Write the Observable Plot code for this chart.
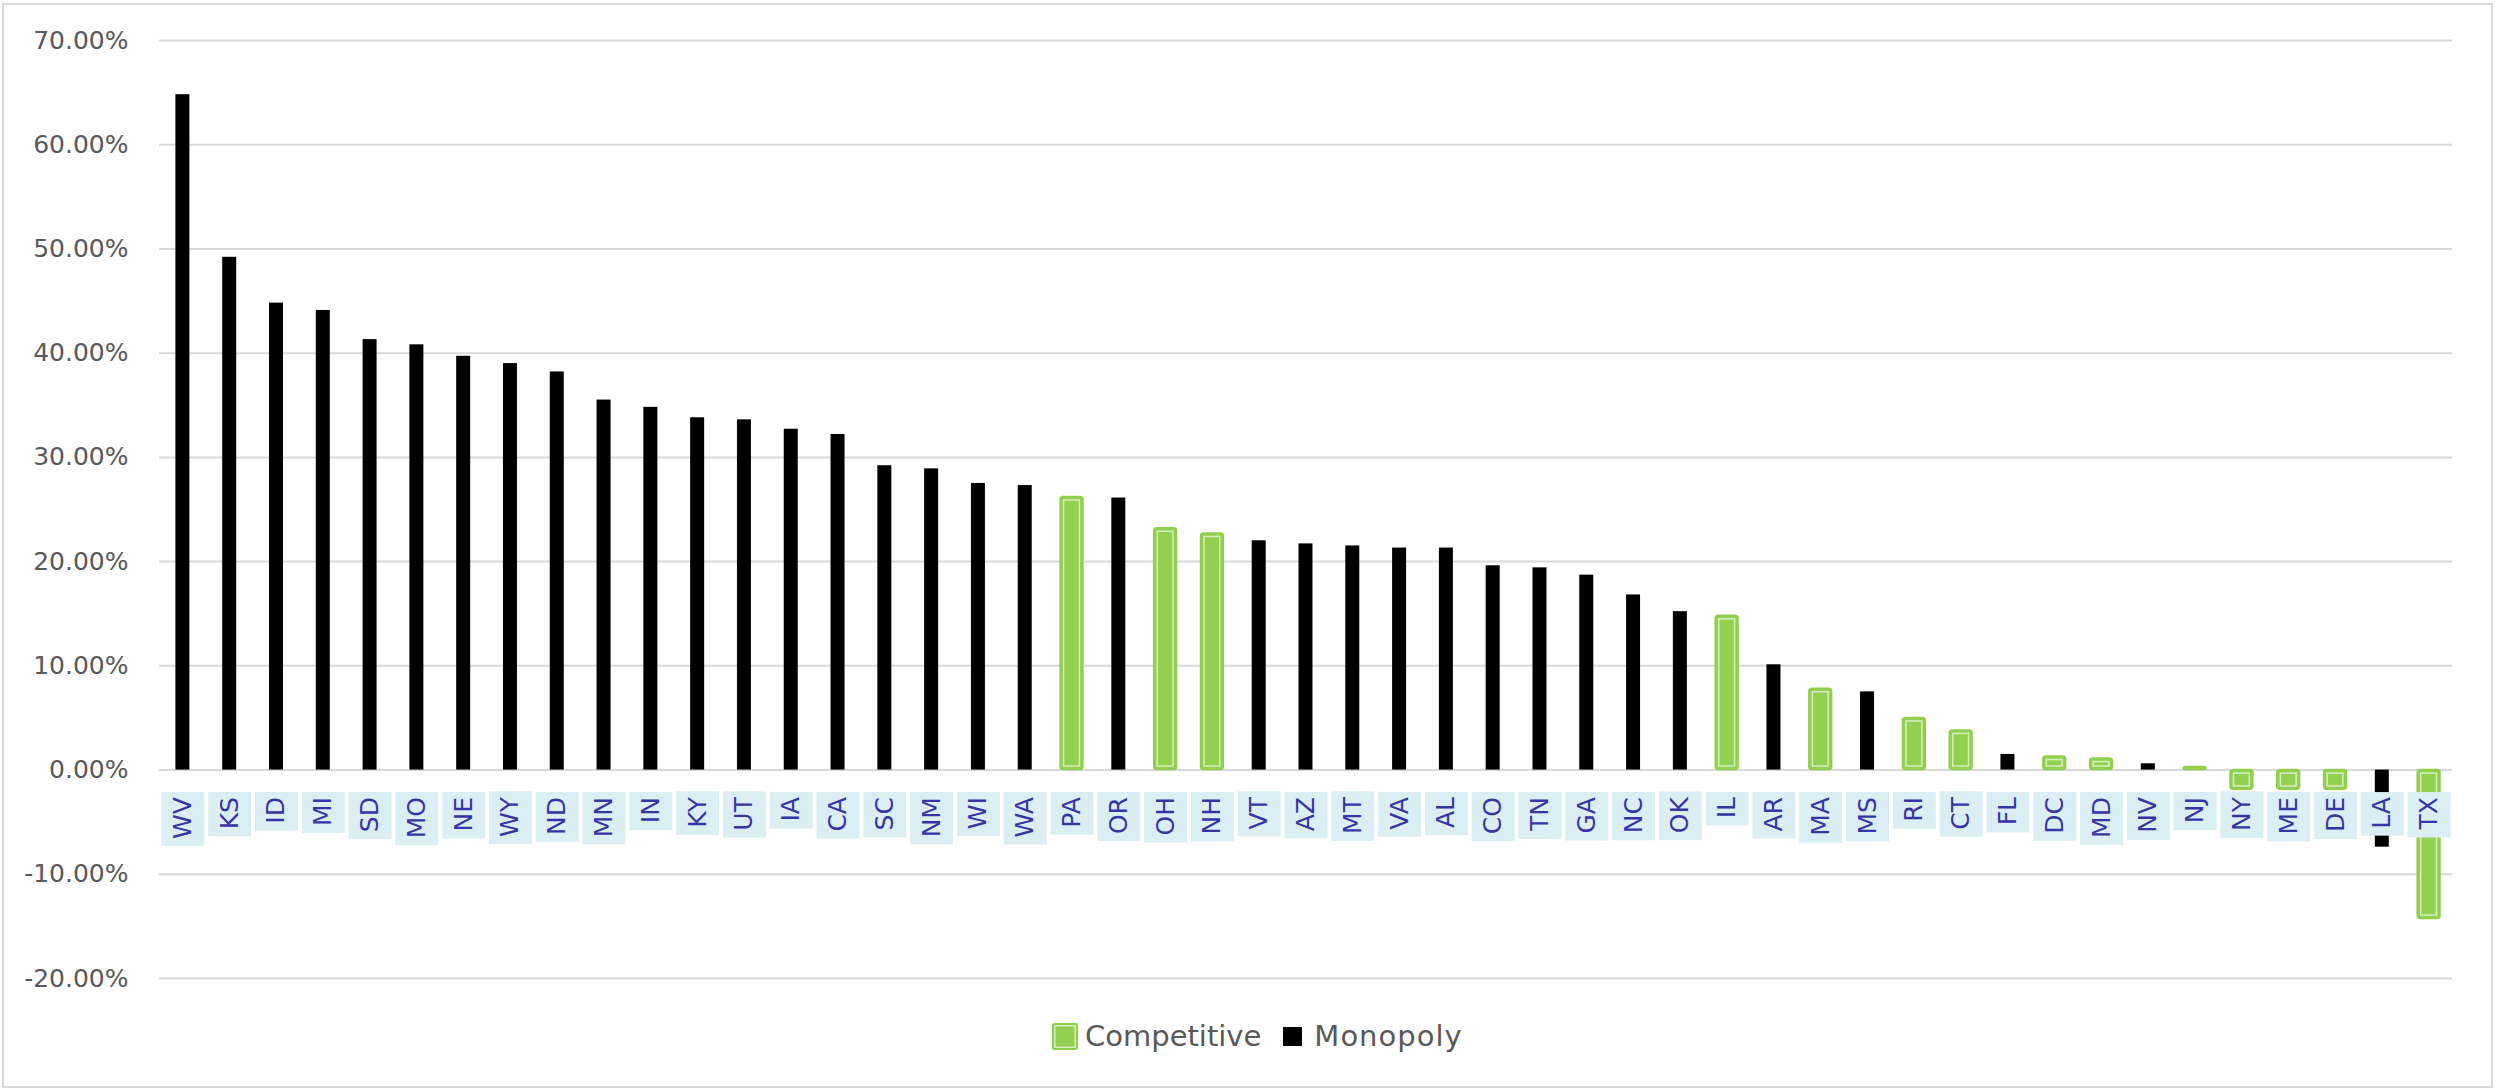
<!DOCTYPE html>
<html>
<head>
<meta charset="utf-8">
<script src="https://cdn.jsdelivr.net/npm/d3@7"></script>
<script src="https://cdn.jsdelivr.net/npm/@observablehq/plot@0.6"></script>
<style>
  html, body { margin: 0; padding: 0; background: #fff; }
  #chart { position: relative; width: 2496px; height: 1091px; overflow: hidden;
           font-family: "DejaVu Sans", Verdana, sans-serif; background: #fff; }
  #frame { position: absolute; left: 2px; top: 3px; width: 2491px; height: 1085px;
           border: 2px solid #d9d9d9; box-sizing: border-box; pointer-events: none; }
  #plot { position: absolute; left: 0; top: 0; }
  #legend { position: absolute; top: 1019px; left: 1052px; display: flex; align-items: center;
            font-size: 29px; color: #595959; white-space: nowrap; }
  .sw-comp { display: inline-block; width: 26px; height: 27px; background: #92D050; border-radius: 3px;
             box-shadow: inset 0 0 0 2px #8fce4c, inset 0 0 0 3.5px #d7eebf; margin-right: 7px; }
  .sw-mono { display: inline-block; width: 19px; height: 19px; background: #000; margin: 0 12px 0 22px; }
  .mono-text { letter-spacing: 1px; }
</style>
</head>
<body>
<div id="chart">
  <div id="plot"></div>
  <div id="legend">
    <span class="sw-comp"></span><span>Competitive</span>
    <span class="sw-mono"></span><span class="mono-text">Monopoly</span>
  </div>
  <div id="frame"></div>
</div>
<script>
// State abbreviations, ordered by the change in price (percent)
const states = ["WV","KS","ID","MI","SD","MO","NE","WY","ND","MN","IN","KY","UT","IA","CA","SC","NM","WI","WA",
                "PA","OR","OH","NH","VT","AZ","MT","VA","AL","CO","TN","GA","NC","OK","IL","AR","MA","MS","RI",
                "CT","FL","DC","MD","NV","NJ","NY","ME","DE","LA","TX"];
// Percent change for each state
const changes = [64.8, 49.2, 44.8, 44.1, 41.3, 40.8, 39.7, 39.0, 38.2, 35.5, 34.8, 33.8, 33.6, 32.7, 32.2, 29.2, 28.9, 27.5, 27.3,
                 26.2, 26.1, 23.2, 22.7, 22.0, 21.7, 21.5, 21.3, 21.3, 19.6, 19.4, 18.7, 16.8, 15.2, 14.8, 10.1, 7.8, 7.5, 5.0,
                 3.8, 1.5, 1.3, 1.1, 0.6, 0.3, -1.9, -1.9, -1.9, -7.4, -14.3];
// Market structure for each state
const competitive = ["PA","OH","NH","IL","MA","RI","CT","DC","MD","NJ","NY","ME","DE","TX"];
const markets = states.map(s => competitive.includes(s) ? "Competitive" : "Monopoly");
// Value axis ticks
const yTicks = [-20, -10, 0, 10, 20, 30, 40, 50, 60, 70];

const rows = states.map((s, i) => ({state: s, change: changes[i], market: markets[i]}));
const comp = rows.filter(d => d.market === "Competitive");
const mono = rows.filter(d => d.market === "Monopoly");

const chart = Plot.plot({
  width: 2496,
  height: 1000,
  marginTop: 40,
  marginBottom: 22,
  marginLeft: 159,
  marginRight: 44,
  style: {background: "transparent", fontFamily: "'DejaVu Sans', Verdana, sans-serif", overflow: "visible"},
  x: {domain: states, padding: 0, axis: null},
  y: {domain: [-20, 70], axis: null},
  marks: [
    Plot.ruleY(yTicks, {stroke: "#d9d9d9", strokeWidth: 2}),
    Plot.axisY({ticks: yTicks, tickSize: 0, tickPadding: 31, fontSize: 25, color: "#595959", label: null,
                tickFormat: d => d.toFixed(2) + "%"}),
    Plot.barY(mono, {x: "state", y: "change", fill: "#000", insetLeft: 16.4, insetRight: 16.4}),
    Plot.barY(comp, {x: "state", y: "change", fill: "#92D050", stroke: "#8fce4c", strokeWidth: 1.5,
                     insetLeft: 12, insetRight: 12, rx: 3}),
    Plot.barY(comp.filter(d => Math.abs(d.change) > 1), {x: "state", y: "change", fill: "none",
                     stroke: "#d7eebf", strokeWidth: 1.5,
                     insetLeft: 15.5, insetRight: 15.5, insetTop: 3.5, insetBottom: 3.5}),
    Plot.text(states, {x: d => d, y: () => 0, dy: 27, rotate: -90, textAnchor: "end",
                       fontSize: 25, fill: "#3535a5", className: "state-label"})
  ]
});

document.getElementById("plot").appendChild(chart);

// Light blue background box behind each state label
const labelGroup = chart.querySelector("g.state-label");
labelGroup.querySelectorAll("text").forEach(t => {
  const b = t.getBBox();
  const r = document.createElementNS("http://www.w3.org/2000/svg", "rect");
  r.setAttribute("x", b.x - 7);
  r.setAttribute("width", b.width + 12);
  r.setAttribute("y", -21.5);
  r.setAttribute("height", 43);
  r.setAttribute("fill", "#dbeef4");
  r.setAttribute("transform", t.getAttribute("transform") || "");
  labelGroup.insertBefore(r, t);
});
</script>
</body>
</html>
